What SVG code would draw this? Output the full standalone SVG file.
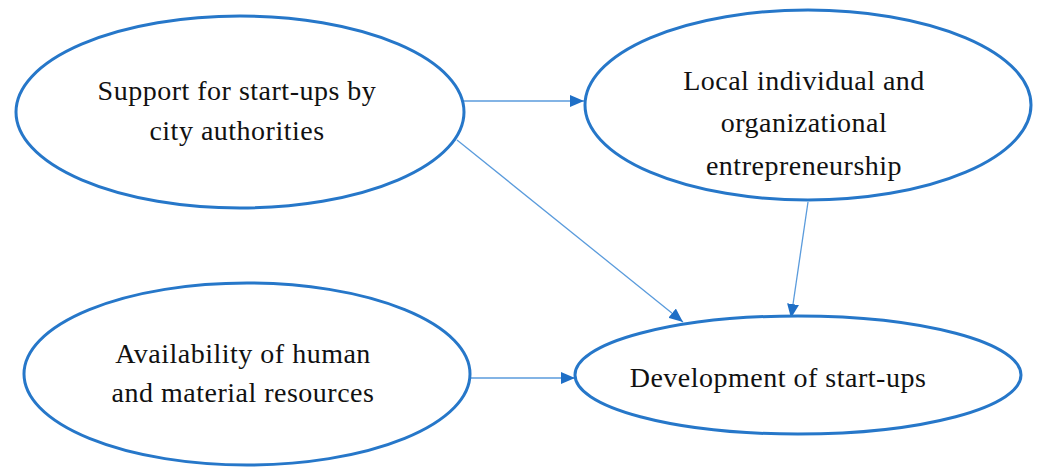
<svg xmlns="http://www.w3.org/2000/svg" width="1038" height="470" viewBox="0 0 1038 470">
<style>
.node ellipse{fill:#ffffff;stroke:#2677c9;stroke-width:3}
.node text{font-family:"Liberation Serif","Times New Roman",serif;font-size:28px;letter-spacing:0.5px;fill:#111111;text-anchor:middle}
.edge{stroke:#5a9bdc;stroke-width:1.3;fill:none;marker-end:url(#arr)}
</style>
<defs>
<marker id="arr" viewBox="0 0 14 12" refX="14" refY="6" markerWidth="14" markerHeight="12" markerUnits="userSpaceOnUse" orient="auto">
<path d="M0,0 L14,6 L0,12 Z" fill="#1f6fc6"/>
</marker>
</defs>
<rect width="1038" height="470" fill="#ffffff"/>
<g id="connectors">
<line class="edge" x1="463" y1="101" x2="584" y2="101"/>
<line class="edge" x1="457" y1="140" x2="683" y2="322"/>
<line class="edge" x1="808" y1="202" x2="791" y2="318"/>
<line class="edge" x1="471" y1="378" x2="575" y2="378"/>
</g>
<g id="node-support" class="node">
<ellipse cx="240" cy="112" rx="224" ry="96"/>
<text x="237" y="100">Support for start-ups by</text>
<text x="237" y="140">city authorities</text>
</g>
<g id="node-local" class="node">
<ellipse cx="808" cy="105" rx="223" ry="95"/>
<text x="804" y="90">Local individual and</text>
<text x="804" y="132">organizational</text>
<text x="804" y="175">entrepreneurship</text>
</g>
<g id="node-availability" class="node">
<ellipse cx="247" cy="374" rx="223" ry="91"/>
<text x="243" y="363">Availability of human</text>
<text x="243" y="402">and material resources</text>
</g>
<g id="node-development" class="node">
<ellipse cx="798" cy="375" rx="223" ry="59"/>
<text x="778" y="387">Development of start-ups</text>
</g>
</svg>
